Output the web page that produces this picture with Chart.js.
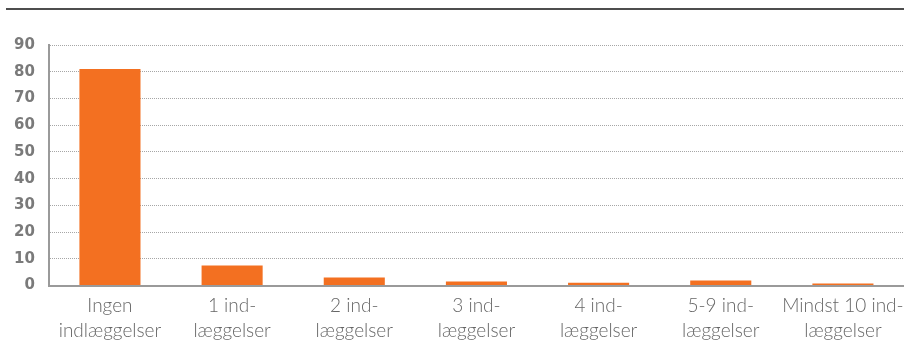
<!DOCTYPE html>
<html>
<head>
<meta charset="utf-8">
<script src="https://cdn.jsdelivr.net/npm/chart.js@4"></script>
<style>
  html, body { margin: 0; padding: 0; background: #fff; }
  #wrap { position: relative; width: 904px; height: 342px; }
  #rule { position: absolute; left: 6px; right: 0; top: 8px; height: 2px; background: #4d4d4d; }
  canvas { position: absolute; left: 0; top: 0; }
</style>
</head>
<body>
<div id="wrap">
  <div id="rule"></div>
  <canvas id="c" width="904" height="342"></canvas>
</div>
<script>
// Antal indlæggelser (procent af personer)
const categories = [
  ["Ingen", "indlæggelser"],
  ["1 ind-", "læggelser"],
  ["2 ind-", "læggelser"],
  ["3 ind-", "læggelser"],
  ["4 ind-", "læggelser"],
  ["5-9 ind-", "læggelser"],
  ["Mindst 10 ind-", "læggelser"]
];
const shares = [81.0, 7.5, 3.0, 1.5, 1.1, 1.9, 0.8];
const yTicks = [0, 10, 20, 30, 40, 50, 60, 70, 80, 90];

const orange = "#f37021";
const axisGrey = "#9a9a9a";

new Chart(document.getElementById("c"), {
  type: "bar",
  data: {
    labels: categories,
    datasets: [{
      data: shares,
      backgroundColor: orange,
      borderWidth: 0,
      categoryPercentage: 1.0,
      barPercentage: 0.5
    }]
  },
  options: {
    responsive: false,
    animation: false,
    layout: { padding: { left: 0, right: 0, top: 45, bottom: -9 } },
    plugins: { legend: { display: false }, tooltip: { enabled: false } },
    scales: {
      x: {
        grid: { display: false, drawTicks: false },
        border: { display: true, color: axisGrey, width: 2 },
        // let the plot run to the right edge even though the last label is wide
        afterFit: (scale) => { scale.paddingRight = 0; },
        ticks: {
          color: "#666666",
          font: { family: "Lato", size: 19, weight: 300, lineHeight: 1.3 },
          padding: 8,
          maxRotation: 0,
          autoSkip: false
        }
      },
      y: {
        min: yTicks[0],
        max: yTicks[yTicks.length - 1],
        afterBuildTicks: (scale) => { scale.ticks = yTicks.map(v => ({ value: v })); },
        grid: { color: "#a6a6a6", lineWidth: 1, drawTicks: false },
        border: { display: true, color: axisGrey, width: 2, dash: [1, 1] },
        ticks: {
          color: "#7a7a7a",
          font: { family: "DejaVu Sans", size: 15, weight: "bold" },
          padding: 14
        }
      }
    }
  }
});
</script>
</body>
</html>
